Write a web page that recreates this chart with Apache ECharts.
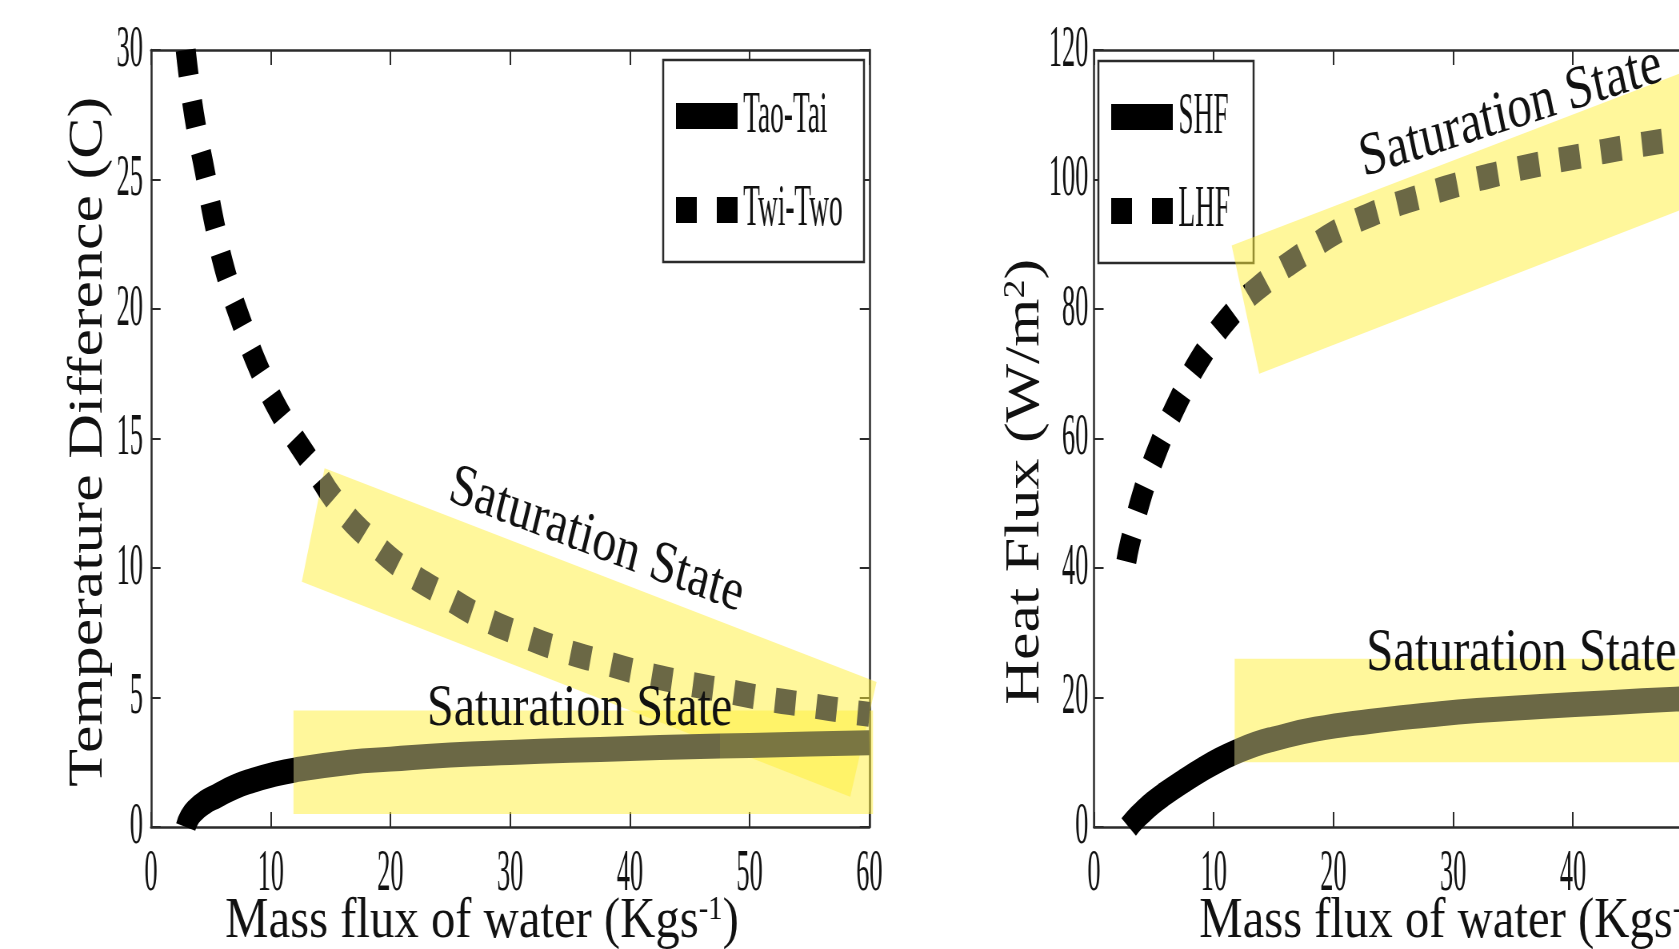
<!DOCTYPE html>
<html>
<head>
<meta charset="utf-8">
<script src="https://cdn.jsdelivr.net/npm/echarts/dist/echarts.min.js"></script>
<style>
  html, body { margin: 0; padding: 0; background: #fff; overflow: hidden; }
  #wrap { position: relative; width: 1679px; height: 949px; overflow: hidden; background: #fff; }
  /* the figure is laid out wide and squeezed horizontally, like the exported original */
  #chart { position: absolute; left: 0; top: 0; width: 2099px; height: 949px;
           transform: scaleX(0.8); transform-origin: 0 0; }
</style>
</head>
<body>
<div id="wrap"><div id="chart"></div></div>
<script>
// ---------------- data ----------------
const massFluxTicks = [0, 10, 20, 30, 40, 50, 60];
const tempTicks = [0, 5, 10, 15, 20, 25, 30];
const fluxTicks = [0, 20, 40, 60, 80, 100, 120];

// Temperature difference (C) vs mass flux of water
const taoTai = [[2.9,0],[3.2,0.35],[3.7,0.65],[4.5,0.95],[5.5,1.2],[7,1.55],[8.5,1.8],[10,2.0],[12,2.2],
  [16.6,2.5],[20,2.62],[25,2.78],[30,2.88],[35,2.96],[40,3.03],[45,3.1],[50,3.15],[55,3.2],[60,3.25]];
const twiTwo = [[2.9,30],[3.6,27.5],[4.5,25.3],[5.3,23.3],[6.3,21.3],[7.7,19.3],[9.2,17.5],[11.0,15.8],
  [13.3,14.1],[15.7,12.4],[18.3,11.1],[21.0,10.0],[24.3,9.0],[27.4,8.15],[30.8,7.45],[34.2,6.85],
  [37.5,6.4],[40.9,5.95],[44.2,5.6],[48.1,5.25],[51.4,4.95],[55.0,4.7],[58.4,4.45],[60,4.35]];

// Heat flux (W/m2) vs mass flux of water
const shf = [[2.9,0],[3.4,1.1],[4.0,2.2],[4.9,3.7],[5.9,5.1],[7.5,7.1],[9.1,8.95],[10.5,10.4],[11.75,11.5],
  [13.5,12.8],[15,13.6],[18.5,15.1],[23,16.3],[27.9,17.3],[32,18.0],[37.3,18.6],[43,19.2],[48.6,19.75],
  [54,20.25],[60,20.7]];
const lhf = [[2.7,41],[3.0,43.8],[4.1,51.8],[5.5,59.2],[7.2,66.4],[9.1,73.0],[11.6,79.4],[14.4,84.3],
  [17.4,88.4],[20.6,92.3],[23.8,95.1],[27.3,97.4],[30.7,99.4],[34,101.0],[37,102.3],[40.8,103.7],
  [44.2,104.9],[47.7,106.0],[52,107.3],[56,108.4],[60,109.4]];

// "Saturation State" highlight regions (corner points in data units)
const tempBands = [
  [[11.9,0.5],[60.3,0.5],[60.3,4.5],[11.9,4.5]],
  [[14.5,13.85],[12.6,9.47],[58.4,1.17],[60.6,5.6]]
];
const fluxBands = [
  [[11.75,10],[60.3,10],[60.3,26],[11.75,26]],
  [[11.5,89.8],[13.8,70.0],[60,103.2],[57.7,122.6]]
];

// mass flux where each curve enters its highlighted region(s)
const shadeFrom = { taoTai: [11.9, 47.5], twiTwo: [14.1], shf: [11.75], lhf: [12.6] };

// ---------------- styling ----------------
const FONT = '"Liberation Serif","Times New Roman",Times,serif';
const INK = '#111';
const AXIS = '#2b2b2b';
const SHADES = ['#6b6845', '#7a7642'];   // curve seen through one / two highlight layers
const BAND = 'rgba(255,240,55,0.5)';
const LINE_W = 25;
const DASH = [26, 26];

const chart = echarts.init(document.getElementById('chart'), null, { renderer: 'canvas' });

function xAxisDef(grid, pos) {
  return {
    gridIndex: grid, type: 'value', min: 0, max: 60, interval: 10, position: pos,
    axisLine: { onZero: false, lineStyle: { color: AXIS, width: 2.5 } },
    axisTick: { inside: true, length: 15, lineStyle: { color: AXIS, width: 2 } },
    axisLabel: { show: false }, splitLine: { show: false }
  };
}
function yAxisDef(grid, pos, max, step) {
  return {
    gridIndex: grid, type: 'value', min: 0, max: max, interval: step, position: pos,
    axisLine: { onZero: false, lineStyle: { color: AXIS, width: 2.5 } },
    axisTick: { inside: true, length: 12, lineStyle: { color: AXIS, width: 2 } },
    axisLabel: { show: false }, splitLine: { show: false }
  };
}
function bandSeries(axisIdx, bands) {
  return {
    type: 'custom', xAxisIndex: axisIdx, yAxisIndex: axisIdx, z: 3, silent: true, clip: false,
    data: bands.map(b => b[0]),
    renderItem: function (params, api) {
      const pts = bands[params.dataIndex].map(p => api.coord(p));
      return { type: 'polygon', shape: { points: pts }, style: { fill: BAND } };
    }
  };
}
function lineSeries(name, axisIdx, data, dashed) {
  return {
    name: name, type: 'line', xAxisIndex: axisIdx, yAxisIndex: axisIdx, z: 4, silent: true,
    data: data, showSymbol: false, symbol: 'none', smooth: 0.5,
    lineStyle: { width: LINE_W, type: dashed ? DASH : 'solid', cap: 'butt', join: 'round' }
  };
}
function shadeMap(seriesIndex, cuts) {
  const pieces = [{ gte: 0, lt: cuts[0], color: '#000' }];
  cuts.forEach((c, i) => {
    const next = i + 1 < cuts.length ? cuts[i + 1] : 70;
    pieces.push({ gte: c, lt: next, color: SHADES[i] });
  });
  return {
    type: 'piecewise', show: false, seriesIndex: seriesIndex, dimension: 0,
    pieces: pieces, outOfRange: { color: '#000' }
  };
}

const option = {
  animation: false,
  backgroundColor: '#fff',
  grid: [
    { left: 188.75, top: 50, width: 898, height: 777, outerBoundsMode: 'none' },
    { left: 1367.5, top: 50, width: 898, height: 777, outerBoundsMode: 'none' }
  ],
  xAxis: [xAxisDef(0, 'bottom'), xAxisDef(0, 'top'), xAxisDef(1, 'bottom'), xAxisDef(1, 'top')],
  yAxis: [yAxisDef(0, 'left', 30, 5), yAxisDef(0, 'right', 30, 5),
          yAxisDef(1, 'left', 120, 20), yAxisDef(1, 'right', 120, 20)],
  visualMap: [
    shadeMap(2, shadeFrom.taoTai), shadeMap(3, shadeFrom.twiTwo),
    shadeMap(4, shadeFrom.shf), shadeMap(5, shadeFrom.lhf)
  ],
  series: [
    bandSeries(0, tempBands),
    bandSeries(2, fluxBands),
    lineSeries('Tao-Tai', 0, taoTai, false),
    lineSeries('Twi-Two', 0, twiTwo, true),
    lineSeries('SHF', 2, shf, false),
    lineSeries('LHF', 2, lhf, true)
  ]
};
chart.setOption(option);

// ---------------- text and legends ----------------
const finder = [{ xAxisIndex: 0, yAxisIndex: 0 }, { xAxisIndex: 2, yAxisIndex: 2 }];
const px = (g, v) => chart.convertToPixel(finder[g], v);

function txt(x, y, str, size, align, sx, rot, extra) {
  return {
    type: 'text', x: x, y: y, scaleX: sx, rotation: rot || 0, z: 10, silent: true,
    style: Object.assign({
      text: str, font: size + 'px ' + FONT, fill: INK,
      textAlign: align, textVerticalAlign: 'middle', align: align, verticalAlign: 'middle'
    }, extra || {})
  };
}

const TICK_SIZE = 60, TICK_SX = 0.55;
const g = [];

// tick labels
[0, 1].forEach(gi => {
  massFluxTicks.forEach(v => {
    const p = px(gi, [v, 0]);
    g.push(txt(p[0], p[1] + 47, String(v), TICK_SIZE, 'center', TICK_SX));
  });
});
tempTicks.forEach(v => {
  const p = px(0, [0, v]);
  g.push(txt(p[0] - 10, p[1], String(v), TICK_SIZE, 'right', TICK_SX));
});
fluxTicks.forEach(v => {
  const p = px(1, [0, v]);
  g.push(txt(p[0] - 7, p[1], String(v), TICK_SIZE, 'right', TICK_SX));
});

// axis titles
const supRich = (base, sup) => ({
  rich: {
    a: { fontSize: base, lineHeight: base, fontFamily: FONT, fill: INK, color: INK },
    s: { fontSize: sup, lineHeight: sup, fontFamily: FONT, fill: INK, color: INK, verticalAlign: 'top' }
  }
});
const xTitle = '{a|Mass flux of water (Kgs}{s|-1}{a|)}';
g.push(txt(602.5, 922, xTitle, 58, 'center', 1.05, 0, supRich(58, 34)));
g.push(txt(1820, 922, xTitle, 58, 'center', 1.05, 0, supRich(58, 34)));
g.push(txt(110.5, 441.7, 'Temperature Difference (C)', 62, 'center', 1, Math.PI / 2));
g.push(txt(1281.6, 481.8, '{a|Heat Flux (W/m}{s|2}{a|)}', 62, 'center', 1, Math.PI / 2, supRich(62, 38)));

// region annotations, anchored in data units
const deg = Math.PI / 180;
let p;
p = px(0, [37.2, 11.05]); g.push(txt(p[0], p[1], 'Saturation State', 60, 'center', 1, -17 * deg));
p = px(0, [35.8, 4.54]);  g.push(txt(p[0], p[1], 'Saturation State', 60, 'center', 1, 0));
p = px(1, [34.8, 110.3]); g.push(txt(p[0], p[1], 'Saturation State', 61, 'center', 1, 14.4 * deg));
p = px(1, [35.7, 26.67]); g.push(txt(p[0], p[1], 'Saturation State', 61, 'center', 1, 0));

// legend boxes
function legend(x0, y0, w, h, names) {
  g.push({ type: 'rect', z: 1, silent: true, shape: { x: x0, y: y0, width: w, height: h },
           style: { fill: '#fff', stroke: AXIS, lineWidth: 2.5 } });
  const sx = x0 + 16;
  g.push({ type: 'rect', z: 11, silent: true, shape: { x: sx, y: y0 + 43, width: 77, height: 26 }, style: { fill: '#000' } });
  g.push({ type: 'rect', z: 11, silent: true, shape: { x: sx, y: y0 + 137, width: 26, height: 26 }, style: { fill: '#000' } });
  g.push({ type: 'rect', z: 11, silent: true, shape: { x: sx + 51, y: y0 + 137, width: 26, height: 26 }, style: { fill: '#000' } });
  g.push(txt(sx + 84, y0 + 56, names[0], 60, 'left', 0.57));
  g.push(txt(sx + 84, y0 + 149, names[1], 60, 'left', 0.57));
}
legend(829, 60, 251, 202, ['Tao-Tai', 'Twi-Two']);
legend(1373, 61, 194, 202, ['SHF', 'LHF']);

chart.setOption({ graphic: g });
</script>
</body>
</html>
